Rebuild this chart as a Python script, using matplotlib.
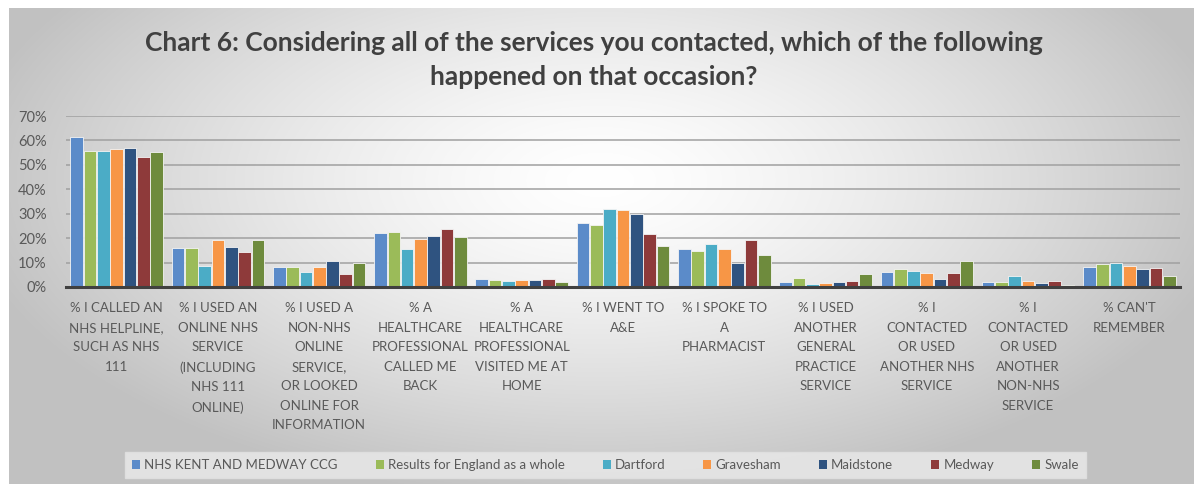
import numpy as np
import matplotlib
matplotlib.use("Agg")
import matplotlib.pyplot as plt
from matplotlib.patches import Patch

plt.rcParams["font.family"] = ["Lato", "DejaVu Sans"]

# --- Datos ---
categorias = [
    "% I CALLED AN\nNHS HELPLINE,\nSUCH AS NHS\n111",
    "% I USED AN\nONLINE NHS\nSERVICE\n(INCLUDING\nNHS 111\nONLINE)",
    "% I USED A\nNON-NHS\nONLINE\nSERVICE,\nOR LOOKED\nONLINE FOR\nINFORMATION",
    "% A\nHEALTHCARE\nPROFESSIONAL\nCALLED ME\nBACK",
    "% A\nHEALTHCARE\nPROFESSIONAL\nVISITED ME AT\nHOME",
    "% I WENT TO\nA&E",
    "% I SPOKE TO\nA\nPHARMACIST",
    "% I USED\nANOTHER\nGENERAL\nPRACTICE\nSERVICE",
    "% I\nCONTACTED\nOR USED\nANOTHER NHS\nSERVICE",
    "% I\nCONTACTED\nOR USED\nANOTHER\nNON-NHS\nSERVICE",
    "% CAN'T\nREMEMBER",
]

series = [
    "NHS KENT AND MEDWAY CCG",
    "Results for England as a whole",
    "Dartford",
    "Gravesham",
    "Maidstone",
    "Medway",
    "Swale",
]

kent_medway = [61.3, 16.0, 8.3, 22.0, 3.1, 26.2, 15.4, 2.0, 6.1, 2.0, 8.0]
inglaterra = [55.8, 16.0, 8.3, 22.4, 2.8, 25.5, 14.7, 3.6, 7.2, 2.0, 9.5]
dartford = [55.8, 8.5, 6.1, 15.4, 2.5, 31.9, 17.6, 1.4, 6.5, 4.4, 9.8]
gravesham = [56.4, 19.3, 8.3, 19.7, 2.8, 31.6, 15.4, 1.7, 5.8, 2.3, 8.4]
maidstone = [57.0, 16.3, 10.5, 20.8, 2.8, 29.7, 10.0, 2.1, 3.1, 1.8, 7.2]
medway = [53.1, 14.4, 5.5, 23.7, 3.1, 21.5, 19.1, 2.6, 5.8, 2.5, 7.6]
swale = [55.3, 19.3, 9.9, 20.4, 2.1, 16.9, 12.9, 5.4, 10.5, 0.8, 4.7]

valores = [kent_medway, inglaterra, dartford, gravesham, maidstone, medway, swale]
colores = ["#5B8BC9", "#9BBB59", "#4BACC6", "#F79646", "#2F5380", "#8E3A3A", "#6E8B3D"]

# --- Figura ---
fig = plt.figure(figsize=(11.94, 4.84), dpi=100)

# fondo con degradado radial (blanco al centro, gris en los bordes)
fondo = fig.add_axes([0, 0, 1, 1], zorder=-10)
h, w = 484, 1194
yy, xx = np.mgrid[0:h, 0:w]
r = np.sqrt(((xx - 600) / 600.0) ** 2 + ((yy - 180) / 300.0) ** 2)
grad = np.clip(1.0 - 0.22 * r ** 1.4, 0.76, 1.0)
img = np.dstack([grad, grad, grad])
img[:8, :, :] = 1.0
img[:, :9, :] = 1.0
fondo.imshow(img, aspect="auto", extent=(0, 1, 0, 1), origin="upper")
fondo.axis("off")

ax = fig.add_axes([66 / 1194, 197 / 484, 1114 / 1194, 171 / 484])
ax.set_facecolor("none")

x = np.arange(len(categorias))
ancho = 0.92 / len(series)
for i, (nombre, vals, col) in enumerate(zip(series, valores, colores)):
    ax.bar(x + (i - 3) * ancho, np.array(vals) / 100.0, width=ancho * 0.95,
           color=col, edgecolor="#f4f4f4", linewidth=0.6, label=nombre, zorder=3)

ax.set_xlim(-0.5, len(categorias) - 0.5)
ax.set_ylim(0, 0.7)
ax.set_yticks(np.arange(0, 0.71, 0.1))
ax.set_yticklabels([f"{int(round(v * 100))}%" for v in np.arange(0, 0.71, 0.1)],
                   fontsize=10.5, color="#595959")
ax.yaxis.grid(True, color="#a0a0a0", linewidth=1.1, zorder=0)
ax.set_axisbelow(True)
ax.tick_params(axis="both", length=0)
ax.tick_params(axis="y", pad=14)
ax.set_xticks(x)
ax.set_xticklabels(categorias, fontsize=9.5, color="#595959", linespacing=1.75)
ax.tick_params(axis="x", pad=11)

for lado in ["top", "right", "left"]:
    ax.spines[lado].set_visible(False)
ax.spines["bottom"].set_color("#404040")
ax.spines["bottom"].set_linewidth(2.2)
ax.spines["bottom"].set_zorder(5)

fig.text(0.497, 0.876, "Chart 6: Considering all of the services you contacted, which of the following\nhappened on that occasion?",
         ha="center", va="center", fontsize=19, fontweight="bold", color="#404040", linespacing=1.5)

# leyenda
manijas = [Patch(facecolor=c, edgecolor="none") for c in colores]
leg = fig.legend(manijas, series, loc="center", bbox_to_anchor=(0.507, 0.039), ncol=7,
                 fontsize=9.5, frameon=True, handlelength=0.6, handleheight=0.75,
                 handletextpad=0.3, columnspacing=2.9, borderpad=0.55, fancybox=False)
leg.get_frame().set_facecolor("#e6e6e6")
leg.get_frame().set_edgecolor("#e0e0e0")
leg.get_frame().set_alpha(0.9)
for t in leg.get_texts():
    t.set_color("#595959")

fig.savefig("out.png", dpi=100)
